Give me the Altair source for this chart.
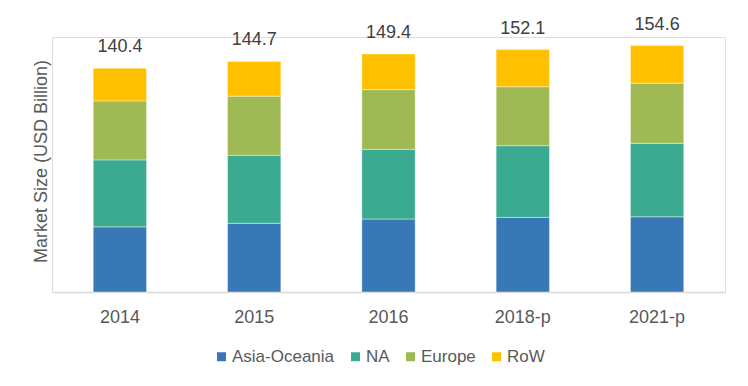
import altair as alt
import pandas as pd

years = ["2014", "2015", "2016", "2018-p", "2021-p"]
regions = ["Asia-Oceania", "NA", "Europe", "RoW"]
asia = [40.9, 43.1, 45.8, 46.8, 47.2]
na = [42.0, 42.7, 43.7, 45.0, 46.1]
europe = [37.0, 37.1, 37.5, 37.0, 37.7]
row = [20.5, 21.8, 22.4, 23.3, 23.6]
totals = [140.4, 144.7, 149.4, 152.1, 154.6]
colors = ["#3878b7", "#3aaa91", "#9fba55", "#ffc000"]

records = []
for series, vals in zip(regions, [asia, na, europe, row]):
    for y, v in zip(years, vals):
        records.append({"year": y, "region": series, "value": v, "order": regions.index(series)})
df = pd.DataFrame(records)
tot = pd.DataFrame({"year": years, "total": totals})

FONT = "Liberation Sans"

x_enc = alt.X("year:N", sort=years,
              scale=alt.Scale(paddingInner=0.603, paddingOuter=0.307),
              axis=alt.Axis(title=None, labelAngle=0, ticks=False, labelPadding=16,
                            labelFontSize=18, labelColor="#595959", labelFont=FONT,
                            domainColor="#d9d9d9", domainWidth=1.5, grid=False))

bars = alt.Chart(df).mark_bar(stroke="#ffffff", strokeOpacity=0.5, strokeWidth=0.8).encode(
    x=x_enc,
    y=alt.Y("sum(value):Q", stack="zero",
            scale=alt.Scale(domain=[0, 160], nice=False),
            axis=alt.Axis(title="Market Size (USD Billion)", labels=False, ticks=False,
                          domain=False, grid=False, titleFontSize=18, titleFont=FONT,
                          titleFontWeight="normal", titleColor="#595959",
                          titleX=-6, titleY=124, titleAngle=270, titleAlign="center",
                          titleBaseline="alphabetic")),
    color=alt.Color("region:N", sort=regions,
                    scale=alt.Scale(domain=regions, range=colors),
                    legend=alt.Legend(title=None, orient="none", direction="horizontal",
                                      legendX=161, legendY=311, symbolType="square",
                                      symbolSize=81, symbolStrokeWidth=0, labelFontSize=17,
                                      labelFont=FONT, labelColor="#595959",
                                      columnPadding=12, labelOffset=2)),
    order=alt.Order("order:Q", sort="ascending"),
)

labels = alt.Chart(tot).mark_text(dy=-21, baseline="middle", fontSize=18, font=FONT,
                                  color="#404040").encode(
    x=alt.X("year:N", sort=years),
    y=alt.Y("total:Q"),
    text=alt.Text("total:Q", format=".1f"),
)

chart = alt.layer(bars, labels).properties(
    width=673, height=255,
    autosize=alt.AutoSizeParams(type="none"),
    padding={"left": 44, "top": 29, "right": 15, "bottom": 80},
).configure_view(stroke=None).configure(background="#ffffff")

chart.save("out.html", embed_options={"renderer": "svg", "actions": False})
